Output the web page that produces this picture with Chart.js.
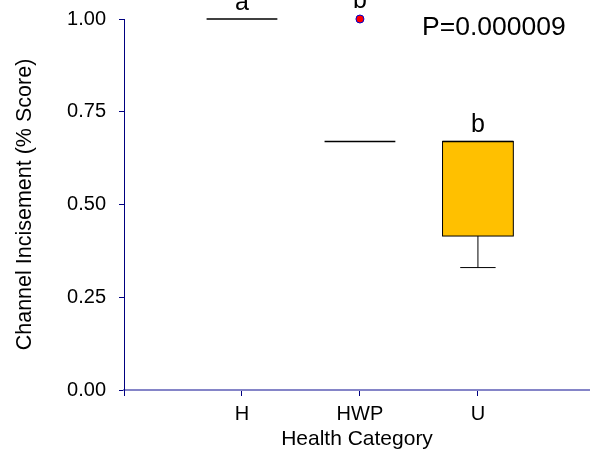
<!DOCTYPE html>
<html>
<head>
<meta charset="utf-8">
<script src="https://cdn.jsdelivr.net/npm/chart.js@4/dist/chart.umd.min.js"></script>
<style>
html,body{margin:0;padding:0;background:#fff;overflow:hidden;}
/* canvas is 5px wider than the window so the x axis runs to the right edge */
#wrap{width:595px;height:454px;position:relative;}
</style>
</head>
<body>
<div id="wrap"><canvas id="boxChart"></canvas></div>
<script>
// =====================================
// DATA
// =====================================

const categories = ["H","HWP","U"];

const whiskerLow  = [1.00, 0.67, 0.33];
const q1          = [1.00, 0.67, 0.415];
const median      = [1.00, 0.67, 0.67];
const q3          = [1.00, 0.67, 0.67];
const whiskerHigh = [1.00, 0.67, 0.67];

const outlierCategory = ["HWP"];
const outlierValues   = [1.00];

const groupLetters = ["a","b","b"];
const pLabel = "P=0.000009";

const yTicks = [0, 0.25, 0.5, 0.75, 1];


// =====================================
// BOX DRAWING PLUGIN
// =====================================

const boxHalf = 0.3;
const capHalf = 0.15;
const fontFamily = "'Liberation Sans', Arial, sans-serif";

const boxPlugin = {

    id:"boxPlugin",

    beforeDatasetsDraw(chart){

        const ctx = chart.ctx;
        const x = chart.scales.x;
        const y = chart.scales.y;

        ctx.save();
        ctx.strokeStyle = "#000";
        ctx.lineWidth = 1;

        categories.forEach((cat,i)=>{

            const pos = i + 1;
            const left = x.getPixelForValue(pos - boxHalf);
            const right = x.getPixelForValue(pos + boxHalf);
            const cx = x.getPixelForValue(pos);

            const yQ1 = y.getPixelForValue(q1[i]);
            const yQ3 = y.getPixelForValue(q3[i]);

            if(q3[i] > q1[i]){
                ctx.fillStyle = "#FFC000";
                ctx.fillRect(left, yQ3, right-left, yQ1-yQ3);
                ctx.strokeRect(left, yQ3, right-left, yQ1-yQ3);
            }

            // median
            const yMed = y.getPixelForValue(median[i]);
            ctx.lineWidth = 1.5;
            ctx.beginPath();
            ctx.moveTo(left, yMed);
            ctx.lineTo(right, yMed);
            ctx.stroke();
            ctx.lineWidth = 1;

            const cl = x.getPixelForValue(pos - capHalf);
            const cr = x.getPixelForValue(pos + capHalf);

            if(whiskerLow[i] < q1[i]){
                const yw = y.getPixelForValue(whiskerLow[i]);
                ctx.beginPath();
                ctx.moveTo(cx, yQ1);
                ctx.lineTo(cx, yw);
                ctx.moveTo(cl, yw);
                ctx.lineTo(cr, yw);
                ctx.stroke();
            }

            if(whiskerHigh[i] > q3[i]){
                const yw = y.getPixelForValue(whiskerHigh[i]);
                ctx.beginPath();
                ctx.moveTo(cx, yQ3);
                ctx.lineTo(cx, yw);
                ctx.moveTo(cl, yw);
                ctx.lineTo(cr, yw);
                ctx.stroke();
            }

        });

        ctx.restore();

    },

    afterDraw(chart){

        const ctx = chart.ctx;
        const x = chart.scales.x;
        const y = chart.scales.y;
        const area = chart.chartArea;

        ctx.save();
        ctx.fillStyle = "#000";
        ctx.font = "25px " + fontFamily;
        ctx.textAlign = "center";
        ctx.textBaseline = "alphabetic";

        categories.forEach((cat,i)=>{

            let top = whiskerHigh[i];

            outlierCategory.forEach((oc,j)=>{
                if(oc === cat && outlierValues[j] > top) top = outlierValues[j];
            });

            const extra = top > whiskerHigh[i] ? 1 : 0;
            ctx.fillText(groupLetters[i], x.getPixelForValue(i+1), y.getPixelForValue(top) - 9 - extra*2);

        });

        ctx.font = "26.5px " + fontFamily;
        ctx.textAlign = "left";
        ctx.fillText(pLabel, area.left + 298, area.top + 16);

        ctx.restore();

    }

};


// =====================================
// CHART
// =====================================

const canvas = document.getElementById("boxChart");

const outlierPoints = outlierCategory.map((c,j)=>({
    x: categories.indexOf(c) + 1,
    y: outlierValues[j]
}));

new Chart(canvas,{

    type:"scatter",

    data:{
        datasets:[{
            label:"Outliers",
            data:outlierPoints,
            backgroundColor:"#FF0000",
            borderColor:"#0000CC",
            borderWidth:1,
            pointRadius:4,
            clip:false
        }]
    },

    options:{

        responsive:true,
        maintainAspectRatio:false,
        animation:false,

        layout:{
            padding:{top:19,right:0,left:0,bottom:0}
        },

        plugins:{
            legend:{display:false},
            tooltip:{enabled:false}
        },

        scales:{

            x:{
                type:"linear",
                min:0,
                max:3.95,
                afterBuildTicks(scale){
                    scale.ticks = [0,1,2,3].map(v=>({value:v}));
                },
                afterFit(scale){
                    scale.height = 64;
                    scale.paddingLeft = 0;
                    scale.paddingRight = 0;
                },
                ticks:{
                    autoSkip:false,
                    maxRotation:0,
                    padding:6,
                    color:"#000",
                    font:{family:fontFamily,size:20},
                    callback:v=>categories[v-1] || ""
                },
                grid:{
                    drawOnChartArea:false,
                    drawTicks:true,
                    tickLength:6,
                    color:"#000080",
                    tickColor:"#000080"
                },
                border:{
                    color:"#8585C8",
                    width:2
                },
                title:{
                    display:true,
                    text:"Health Category",
                    color:"#000",
                    font:{family:fontFamily,size:21},
                    padding:{top:0,bottom:2}
                }
            },

            y:{
                min:0,
                max:1,
                afterBuildTicks(scale){
                    scale.ticks = yTicks.map(v=>({value:v}));
                },
                afterFit(scale){
                    scale.width = 124;
                    scale.paddingTop = 0;
                    scale.paddingBottom = 0;
                },
                ticks:{
                    padding:13,
                    color:"#000",
                    font:{family:fontFamily,size:20},
                    callback:v=>Number(v).toFixed(2)
                },
                grid:{
                    drawOnChartArea:false,
                    drawTicks:true,
                    tickLength:5,
                    color:"#000080",
                    tickColor:"#000080"
                },
                border:{
                    color:"#000080",
                    width:1
                },
                title:{
                    display:true,
                    text:"Channel Incisement (% Score)",
                    color:"#000",
                    font:{family:fontFamily,size:21.5},
                    padding:{top:12.5,bottom:0}
                }
            }

        }

    },

    plugins:[boxPlugin]

});
</script>
</body>
</html>
